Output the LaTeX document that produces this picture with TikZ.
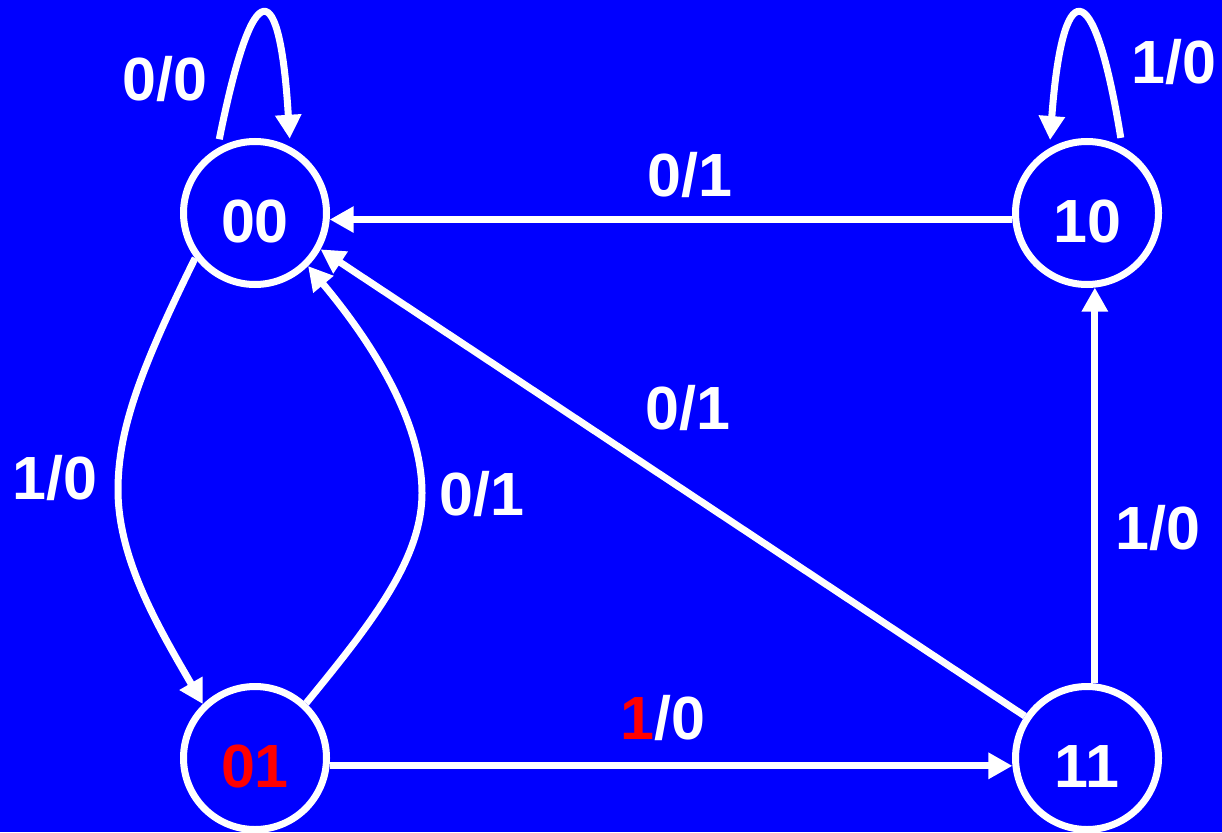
\documentclass[tikz,border=0pt]{standalone}
\usepackage{fontspec}
\setmainfont{Liberation Sans}
\usetikzlibrary{arrows.meta}
\definecolor{bg}{RGB}{0,0,255}
\definecolor{hl}{RGB}{255,0,0}
\begin{document}
\begin{tikzpicture}[x=1pt,y=-1pt,
  state/.style={circle,draw=white,line width=7pt,minimum size=143pt,inner sep=0pt,
    text height=59pt,text depth=0pt,font=\fontsize{61}{61}\selectfont\bfseries,text=white},
  lbl/.style={font=\fontsize{61}{61}\selectfont\bfseries,text=white,inner sep=0pt},
  edge/.style={draw=white,line width=7pt,-{Triangle[length=24pt,width=25pt]}}]
\useasboundingbox (0,0) rectangle (1222,832);
\fill[bg] (0,0) rectangle (1222,832);
% states
\node[state] (n00) at (255,213) {00};
\node[state] (n10) at (1087,213) {10};
\node[state,text=hl] (n01) at (255,758) {01};
\node[state] (n11) at (1087,758) {11};
% self loops
\draw[edge,shorten <=9pt,shorten >=8pt] (n00.120) .. controls (254,-33) and (280,-22) .. (n00.62);
\draw[edge,shorten <=9pt,shorten >=8pt] (n10.62) .. controls (1093,-33) and (1062,-22) .. (n10.120);
% curved edges between 00 and 01
\coordinate (cl) at (118,490);
\coordinate (cr) at (422,493);
\draw[edge] (n00.217) .. controls (140,370) and (118,430) .. (cl) .. controls (118,560) and (160,630) .. (n01.134);
\draw[edge] (n01.47) .. controls (370,625) and (422,560) .. (cr) .. controls (422,420) and (370,340) .. (n00.-45);
% straight edges
\draw[edge] (n10.185) -- (n00.-5);
\draw[edge] (n11.146) -- (n00.-29);
\draw[edge] (n11.84) -- (n10.-84);
\draw[edge] (n01.-6) -- (n11.186);
% labels
\node[lbl] (l00) at (165,79) {0/0};
\node[lbl] (l10) at (1174,62) {1/0};
\node[lbl] (ltop) at (690,175) {0/1};
\node[lbl] (ldiag) at (688,408) {0/1};
\node[lbl] (lleft) at (55,478) {1/0};
\node[lbl] (lmid) at (482,494) {0/1};
\node[lbl] (lright) at (1158,528) {1/0};
\node[lbl] (lbot) at (663,718) {\textcolor{hl}{1}/0};
\end{tikzpicture}
\end{document}
